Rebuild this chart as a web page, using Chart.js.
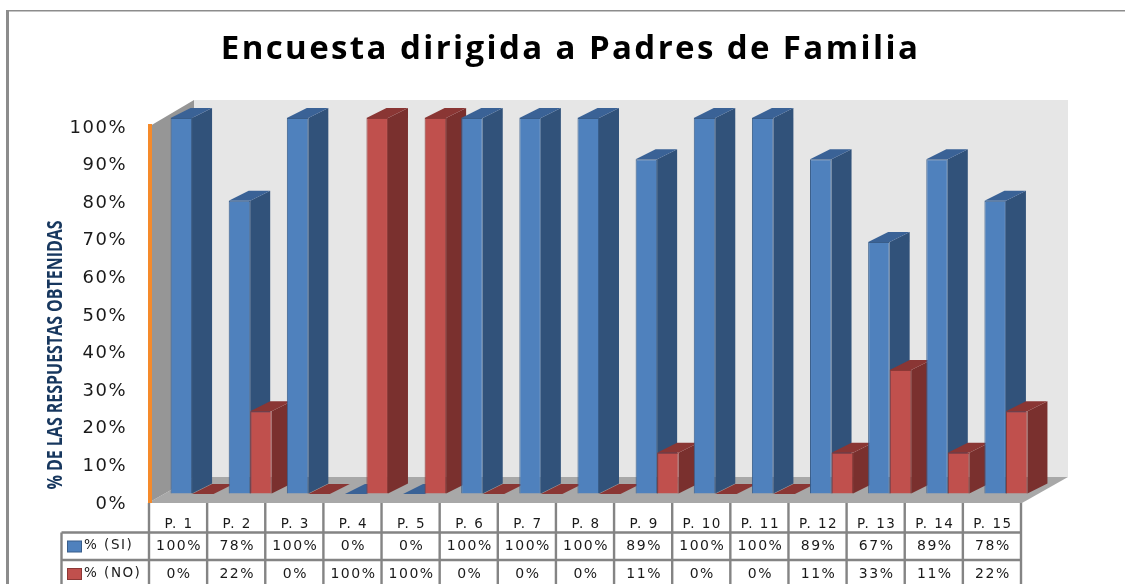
<!DOCTYPE html>
<html>
<head>
<meta charset="utf-8">
<style>
  html, body { margin: 0; padding: 0; background: #fff; }
  canvas { display: block; }
</style>
<script src="https://cdn.jsdelivr.net/npm/chart.js@4/dist/chart.umd.min.js"></script>
</head>
<body>
<canvas id="myChart" width="1125" height="584"></canvas>
<script>
var preguntas = ['P. 1','P. 2','P. 3','P. 4','P. 5','P. 6','P. 7','P. 8','P. 9','P. 10','P. 11','P. 12','P. 13','P. 14','P. 15'];
var porcentajeSi = [100,78,100,0,0,100,100,100,89,100,100,89,67,89,78];
var porcentajeNo = [0,22,0,100,100,0,0,0,11,0,0,11,33,11,22];
var tituloEje = '% DE LAS RESPUESTAS OBTENIDAS';

var FONT = '"DejaVu Sans", sans-serif';
var TEXT = '#1a1a1a';
var GRID = '#848484';
var ESPACIO = '1.5px';
var caras = [
  { lado: '#31527a', techo: '#3a6296' },
  { lado: '#7a302e', techo: '#8a3634' }
];

// fake 3d box: side and top faces around each bar, drawn category by category
var cajas3d = {
  id: 'cajas3d',
  beforeDatasetsDraw: function(chart) {
    var ctx = chart.ctx;
    var dx = 20, dy = 10;
    ctx.save();
    ctx.translate(13, -8);
    preguntas.forEach(function(p, i) {
      chart.data.datasets.forEach(function(ds, d) {
        var el = chart.getDatasetMeta(d).data[i];
        var l = el.x - el.width / 2, r = el.x + el.width / 2;
        ctx.fillStyle = caras[d].lado;
        ctx.beginPath();
        ctx.moveTo(r, el.y);
        ctx.lineTo(r + dx, el.y - dy);
        ctx.lineTo(r + dx, el.base - dy);
        ctx.lineTo(r, el.base);
        ctx.closePath();
        ctx.fill();
        ctx.fillStyle = caras[d].techo;
        ctx.beginPath();
        ctx.moveTo(l, el.y);
        ctx.lineTo(l + dx, el.y - dy);
        ctx.lineTo(r + dx, el.y - dy);
        ctx.lineTo(r, el.y);
        ctx.closePath();
        ctx.fill();
        if (ds.data[i] > 0) el.draw(ctx);
      });
    });
    ctx.restore();
    return false;
  }
};

// walls, floor and page frame behind the chart
var fondo = {
  id: 'fondo',
  afterLayout: function(chart) {
    var ctx = chart.ctx;
    var t = chart.titleBlock, dibuja = t.draw;
    // centre the title on the picture and open up its letters
    t.left = 16;
    t.right = 1125;
    t.draw = function() {
      ctx.letterSpacing = '2.4px';
      dibuja.call(t);
      ctx.letterSpacing = ESPACIO;
    };
    // tick labels sit a little under the tick position
    chart.scales.y.getLabelItems().forEach(function(it) {
      it.options.translation[1] += 2;
    });
  },
  beforeDraw: function(chart) {
    var ctx = chart.ctx, a = chart.chartArea;
    var fx = 44, fy = 25;
    ctx.letterSpacing = ESPACIO;
    ctx.save();
    ctx.fillStyle = '#fff';
    ctx.fillRect(0, 0, chart.width, chart.height);
    ctx.fillStyle = '#e6e6e6';
    ctx.fillRect(a.left + fx, a.top - fy - 1, a.right - a.left + 2, a.bottom - a.top + 1);
    ctx.fillStyle = '#969696';
    ctx.beginPath();
    ctx.moveTo(a.left, a.top);
    ctx.lineTo(a.left + fx, a.top - fy - 1);
    ctx.lineTo(a.left + fx, a.bottom - fy);
    ctx.lineTo(a.left, a.bottom);
    ctx.closePath();
    ctx.fill();
    ctx.fillStyle = '#a8a8a8';
    ctx.beginPath();
    ctx.moveTo(a.left - 2, a.bottom + 1);
    ctx.lineTo(a.left + fx, a.bottom - fy);
    ctx.lineTo(a.right + fx + 2, a.bottom - fy);
    ctx.lineTo(a.right, a.bottom + 1);
    ctx.closePath();
    ctx.fill();
    ctx.fillStyle = '#8c8c8c';
    ctx.fillRect(6, 10, 3, chart.height - 10);
    ctx.fillRect(6, 10, chart.width - 6, 1.5);
    ctx.restore();
  }
};

// data table under the axis, plus the narrow axis title
var tabla = {
  id: 'tabla',
  afterDraw: function(chart) {
    var ctx = chart.ctx, a = chart.chartArea, x = chart.scales.x;
    var ancho = (a.right - a.left) / preguntas.length;
    var filas = [532.5, 560];
    var inicio = 61.5;
    ctx.save();
    ctx.strokeStyle = GRID;
    ctx.lineWidth = 2.4;
    ctx.beginPath();
    filas.forEach(function(y) {
      ctx.moveTo(inicio, y);
      ctx.lineTo(a.right, y);
    });
    for (var i = 0; i <= preguntas.length; i++) {
      var vx = a.left - 1 + i * ancho;
      ctx.moveTo(vx, a.bottom + 1);
      ctx.lineTo(vx, chart.height);
    }
    ctx.moveTo(inicio, filas[0]);
    ctx.lineTo(inicio, chart.height);
    ctx.stroke();

    ctx.textBaseline = 'middle';
    chart.data.datasets.forEach(function(ds, d) {
      var y = filas[d] + 14;
      ctx.fillStyle = ds.borderColor;
      ctx.fillRect(67, y - 6, 15, 12);
      ctx.fillStyle = ds.backgroundColor;
      ctx.fillRect(68, y - 5, 13, 10);
      ctx.fillStyle = TEXT;
      ctx.font = '13.5px ' + FONT;
      ctx.textAlign = 'left';
      ctx.fillText(ds.label, 84, y - 1);
      ctx.font = '14px ' + FONT;
      ctx.textAlign = 'center';
      ds.data.forEach(function(v, i) {
        ctx.fillText(v + '%', x.getPixelForValue(i), y);
      });
    });
    ctx.restore();

    ctx.save();
    ctx.translate(56, 355);
    ctx.rotate(-Math.PI / 2);
    ctx.scale(0.76, 1);
    ctx.letterSpacing = '0px';
    ctx.fillStyle = '#17375e';
    ctx.font = 'bold 21px "Open Sans", sans-serif';
    ctx.textAlign = 'center';
    ctx.textBaseline = 'middle';
    ctx.fillText(tituloEje, 0, 0);
    ctx.restore();
  }
};

new Chart(document.getElementById('myChart').getContext('2d'), {
  type: 'bar',
  data: {
    labels: preguntas,
    datasets: [
      { label: '% (SI)', data: porcentajeSi, backgroundColor: '#4f81bd', borderColor: '#385d8a', borderWidth: 1 },
      { label: '% (NO)', data: porcentajeNo, backgroundColor: '#c0504d', borderColor: '#8c3836', borderWidth: 1 }
    ]
  },
  options: {
    responsive: false,
    animation: false,
    layout: { padding: { left: 48, right: 103, top: 0, bottom: 0 } },
    datasets: { bar: { categoryPercentage: 0.74, barPercentage: 1 } },
    plugins: {
      legend: { display: false },
      tooltip: { enabled: false },
      title: {
        display: true,
        text: 'Encuesta dirigida a Padres de Familia',
        color: '#000',
        font: { family: '"Open Sans", sans-serif', size: 33, weight: 'bold' },
        padding: { top: 30, bottom: 56.4 }
      }
    },
    scales: {
      x: {
        grid: { display: false },
        border: { display: false },
        ticks: {
          color: TEXT, padding: 6, autoSkip: false, maxRotation: 0,
          font: { family: FONT, size: 13.5 }
        },
        afterFit: function(s) { s.height = 82; }
      },
      y: {
        min: 0, max: 100,
        grid: { drawOnChartArea: false, drawTicks: false },
        border: { color: '#f58a2a', width: 4 },
        ticks: {
          stepSize: 10, padding: 23, color: TEXT,
          font: { family: FONT, size: 18 },
          callback: function(v) { return v + '%'; }
        },
        afterFit: function(s) { s.width = 102; }
      }
    }
  },
  plugins: [fondo, cajas3d, tabla]
});
</script>
</body>
</html>
